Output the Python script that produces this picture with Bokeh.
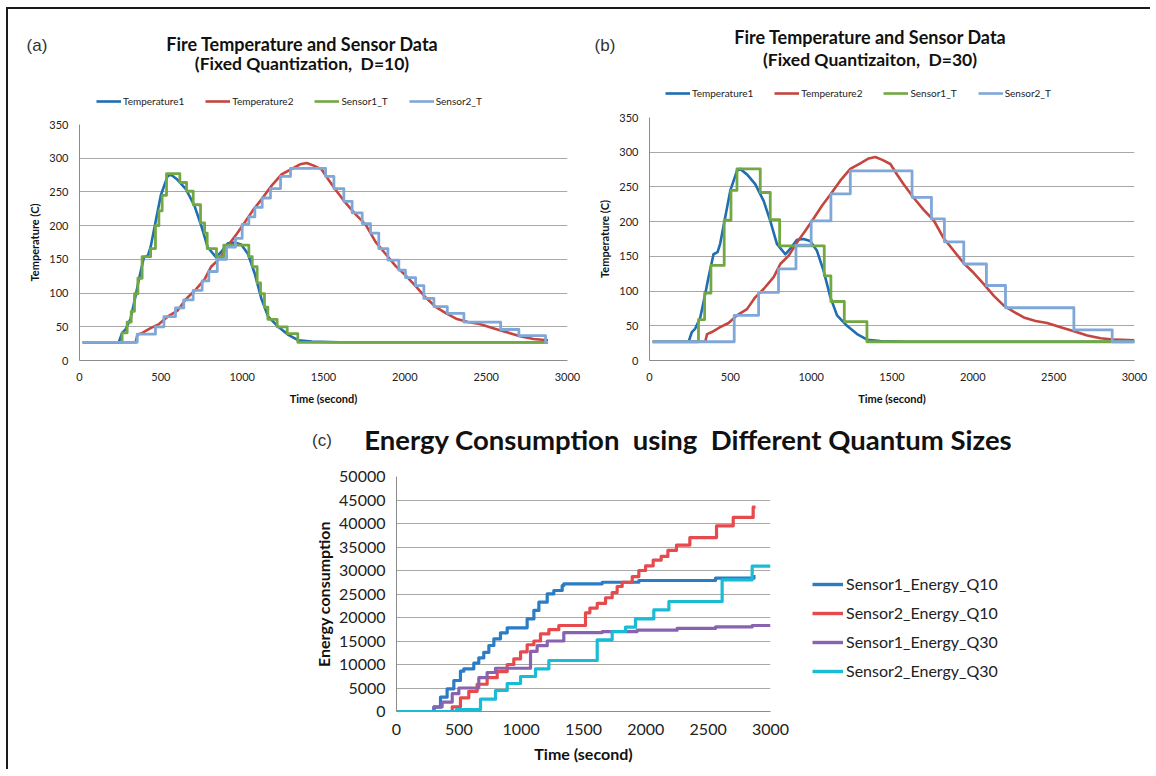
from bokeh.plotting import figure
from bokeh.models import Range1d, Legend, LegendItem, SingleIntervalTicker, Div
from bokeh.layouts import row, column
from bokeh.embed import file_html
from bokeh.resources import INLINE

# ---------------- data ----------------
# fire temperatures (shared by panels a and b)
temp1_t = [20, 242, 262, 283, 314, 345, 365, 396, 421, 437, 468, 500, 541, 561, 603, 654, 706, 747, 788,
           840, 871, 912, 953, 994, 1036, 1077, 1119, 1160, 1222, 1284, 1346, 1428, 1600, 2000, 2500, 2880, 3000]
temp1_v = [27, 27, 41, 46, 62, 96, 120, 153, 156, 168, 206, 245, 273, 276, 268, 254, 230, 201, 168,
           153, 161, 174, 175, 172, 158, 129, 91, 65, 50, 38, 30, 28, 27, 27, 27, 27, 27]
temp2_t = [20, 345, 356, 386, 437, 489, 541, 603, 654, 706, 768, 809, 861, 912, 964, 1005, 1067, 1119, 1180,
           1242, 1304, 1356, 1397, 1440, 1490, 1531, 1572, 1635, 1696, 1758, 1820, 1882, 1944, 2006, 2068,
           2130, 2192, 2254, 2315, 2388, 2460, 2543, 2626, 2708, 2791, 2880, 3000]
temp2_v = [27, 27, 38, 41, 48, 54, 65, 74, 91, 103, 120, 139, 151, 170, 187, 201, 223, 239, 259,
           276, 284, 291, 293, 289, 283, 268, 254, 234, 217, 202, 176, 158, 140, 126, 110,
           93, 79, 70, 62, 57, 54, 48, 42, 36, 32, 30, 29]

# panel (a): D=10 sensor readings (time of change, reported value)
s1a_t = [20, 262, 293, 318, 338, 359, 385, 437, 467, 488, 508, 535, 617, 658, 699, 744, 769, 785, 842, 887,
         1041, 1062, 1092, 1113, 1137, 1158, 1215, 1277, 1342, 2880]
s1a_v = [27, 41, 57, 73, 99, 122, 154, 166, 200, 222, 245, 277, 264, 251, 231, 204, 189, 166, 154, 171,
         154, 139, 115, 99, 79, 61, 50, 40, 27, 27]
s2a_t = [20, 355, 467, 519, 590, 641, 699, 754, 795, 847, 904, 959, 1000, 1041, 1078, 1123, 1174, 1236, 1297,
         1513, 1564, 1625, 1676, 1738, 1789, 1840, 1896, 1963, 2004, 2066, 2117, 2179, 2261, 2363, 2589,
         2701, 2865, 2880]
s2a_v = [27, 39, 50, 65, 78, 90, 104, 118, 132, 150, 168, 181, 202, 213, 227, 241, 255, 273, 285,
         273, 255, 236, 219, 203, 189, 166, 149, 134, 123, 111, 92, 80, 70, 57, 46,
         37, 27, 27]

# panel (b): D=30 sensor readings
s1b_t = [20, 303, 341, 380, 462, 504, 541, 685, 747, 805, 1081, 1122, 1205, 1345, 3000]
s1b_v = [27, 59, 97, 137, 202, 245, 276, 242, 203, 165, 122, 85, 56, 27, 27]
s2b_t = [20, 524, 675, 798, 906, 1000, 1122, 1242, 1624, 1744, 1824, 1944, 2084, 2202, 2625, 2862, 3000]
s2b_v = [27, 65, 98, 132, 166, 201, 240, 273, 235, 204, 171, 139, 108, 76, 44, 27, 27]

# panel (c): cumulative energy
e1q10_t = [0, 286, 300, 353, 406, 460, 513, 540, 615, 620, 660, 700, 741, 781, 834, 888, 1035, 1048, 1102,
           1142, 1209, 1262, 1329, 1342, 1650, 1944, 2559, 2867, 2880]
e1q10_v = [0, 0, 920, 3050, 4820, 6600, 8580, 9080, 9080, 10280, 11400, 12600, 14040, 15460, 16740, 17800,
           17800, 19700, 21500, 23260, 25030, 25740, 26800, 27160, 27500, 27870, 28370, 28720, 28720]
e2q10_t = [0, 447, 513, 580, 647, 727, 808, 888, 941, 995, 1048, 1102, 1155, 1222, 1302, 1516, 1551, 1610,
           1677, 1730, 1770, 1810, 1891, 1944, 1998, 2059, 2123, 2177, 2246, 2353, 2567, 2701, 2861, 2880]
e2q10_v = [0, 1000, 2900, 4300, 5800, 7200, 8500, 10000, 11200, 12700, 14200, 15000, 16500, 17400, 18300,
           21000, 22000, 23000, 24200, 25300, 26600, 27500, 28700, 30000, 31000, 32200, 33000, 34300,
           35400, 37000, 39500, 41300, 43500, 43500]
e1q30_t = [0, 300, 366, 447, 500, 660, 727, 794, 1075, 1128, 1209, 1342, 1650, 1930, 2251, 2560, 2853, 3000]
e1q30_v = [0, 1000, 2000, 3800, 5000, 7200, 8300, 9200, 12800, 14000, 15000, 16800, 17000, 17300, 17700,
           18000, 18300, 18300]
e2q30_t = [0, 480, 674, 794, 888, 995, 1115, 1222, 1610, 1730, 1837, 1917, 2064, 2185, 2612, 2853, 3000]
e2q30_v = [0, 400, 2620, 4470, 5960, 7450, 9080, 10850, 15250, 17020, 17940, 19720, 21630, 23400, 28010,
           30920, 30920]

temp_names = ["Temperature1", "Temperature2", "Sensor1_T", "Sensor2_T"]
energy_names = ["Sensor1_Energy_Q10", "Sensor2_Energy_Q10", "Sensor1_Energy_Q30", "Sensor2_Energy_Q30"]
title_a = ["Fire Temperature and Sensor Data", "(Fixed Quantization,  D=10)"]
title_b = ["Fire Temperature and Sensor Data", "(Fixed Quantizaiton,  D=30)"]
title_c = "Energy Consumption  using  Different Quantum Sizes"

# ---------------- styling ----------------
FONT = "Lato"
TEMP_COLORS = ["#1F6DB2", "#C4463F", "#72A843", "#7FA7D8"]
E_COLORS = ["#2A7CC4", "#E64A4D", "#8A63B0", "#1ABCD5"]
GRID = "#A8A8A8"
AXIS = "#8C8C8C"


def base_fig(w, h, bl, br, bt, bb, ymax, yint, tick_size, lab_size, xlab, ylab, ystand, xstand):
    p = figure(width=w, height=h, x_range=Range1d(0, 3000), y_range=Range1d(0, ymax),
               output_backend="svg", toolbar_location=None,
               min_border_left=bl, min_border_right=br, min_border_top=bt, min_border_bottom=bb)
    p.outline_line_color = None
    p.xgrid.visible = False
    p.ygrid.grid_line_color = GRID
    p.ygrid.grid_line_width = 1
    p.xaxis.ticker = SingleIntervalTicker(interval=500)
    p.yaxis.ticker = SingleIntervalTicker(interval=yint)
    for ax in (p.xaxis[0], p.yaxis[0]):
        ax.axis_line_color = AXIS
        ax.axis_line_width = 1
        ax.major_tick_line_color = None
        ax.minor_tick_line_color = None
        ax.major_tick_out = 0
        ax.major_tick_in = 0
        ax.major_label_text_font = FONT
        ax.major_label_text_font_size = tick_size
        ax.major_label_text_color = "#222222"
        ax.axis_label_text_font = FONT
        ax.axis_label_text_font_style = "bold"
        ax.axis_label_text_font_size = lab_size
        ax.axis_label_text_color = "#111111"
    p.xaxis.axis_label = xlab
    p.yaxis.axis_label = ylab
    p.yaxis.major_label_standoff = 7
    p.xaxis.major_label_standoff = 8
    p.yaxis.axis_label_standoff = ystand
    p.xaxis.axis_label_standoff = xstand
    return p


def header(w, h, items):
    spans = []
    for (x, y, text, size, bold, font) in items:
        spans.append(
            f'<div style="position:absolute;left:{x}px;top:{y}px;transform:translate(-50%,-50%);'
            f'white-space:pre;font-family:\'{font}\';font-size:{size};font-weight:{"bold" if bold else "normal"};'
            f'color:{"#111" if bold else "#333"};line-height:1;">{text}</div>')
    html = f'<div style="position:relative;width:{w}px;height:{h}px;">' + "".join(spans) + "</div>"
    return Div(text=html, width=w, height=h, margin=0)


def legend_fig(w, h, names, series, colors, lw, loc, orientation, size, gw, gh, standoff, spacing):
    # legend-only figure: the series are drawn outside its (empty) view, only the legend shows
    lf = figure(width=w, height=h, x_range=Range1d(-2, -1), y_range=Range1d(-2, -1),
                output_backend="svg", toolbar_location=None, min_border=0,
                x_axis_location=None, y_axis_location=None)
    lf.grid.visible = False
    lf.outline_line_color = None
    rs = [lf.line(tx, vy, line_color=c, line_width=lw) for (tx, vy), c in zip(series, colors)]
    leg = Legend(items=[LegendItem(label=n, renderers=[r]) for n, r in zip(names, rs)],
                 orientation=orientation, location=loc, label_text_font=FONT,
                 label_text_font_size=size, label_text_color="#222222", glyph_width=gw, glyph_height=gh,
                 label_height=gh, label_standoff=standoff, spacing=spacing, padding=0, margin=0,
                 border_line_color=None, background_fill_alpha=0)
    lf.add_layout(leg)
    return lf


def temp_panel(w, h, bl, br, bt, tmax, s1t, s1v, s2t, s2v):
    p = base_fig(w, h, bl, br, bt, 59, 350, 50, "11px", "11px",
                 "Time (second)", "Temperature (C)", 5, 8)
    t1x = [t for t in temp1_t if t <= tmax]
    t1y = temp1_v[:len(t1x)]
    t2x = [t for t in temp2_t if t <= tmax]
    t2y = temp2_v[:len(t2x)]
    p.line(t1x, t1y, line_color=TEMP_COLORS[0], line_width=2.6, line_join="round")
    p.line(t2x, t2y, line_color=TEMP_COLORS[1], line_width=2.6, line_join="round")
    p.step(s1t, s1v, mode="after", line_color=TEMP_COLORS[2], line_width=2.8, line_join="round")
    p.step(s2t, s2v, mode="after", line_color=TEMP_COLORS[3], line_width=2.8, line_join="round")
    return p


# panel (a): header 84 + legend 16 + plot 310
ha = header(578, 84, [(29, 36, "(a)", "17px", False, "Liberation Sans"),
                      (294, 35, title_a[0], "18px", True, FONT),
                      (294, 55, title_a[1], "17.5px", True, FONT)])
la = legend_fig(578, 16, temp_names, [(temp1_t, temp1_v), (temp2_t, temp2_v), (s1a_t, s1a_v), (s2a_t, s2a_v)],
                TEMP_COLORS, 2.6, (17, 2), "horizontal", "10px", 25, 12, 2, 21)
pa = temp_panel(578, 310, 71, 19, 15, 2880, s1a_t, s1a_v, s2a_t, s2a_v)

# panel (b): header 76 + legend 16 + plot 318
hb = header(564, 76, [(19, 36, "(b)", "17px", False, "Liberation Sans"),
                      (284, 28, title_b[0], "18px", True, FONT),
                      (284, 51, title_b[1], "17.5px", True, FONT)])
lb = legend_fig(564, 16, temp_names, [(temp1_t, temp1_v), (temp2_t, temp2_v), (s1b_t, s1b_v), (s2b_t, s2b_v)],
                TEMP_COLORS, 2.6, (16, 2), "horizontal", "10px", 25, 12, 2, 21)
pb = temp_panel(564, 318, 63, 16, 16, 3000, s1b_t, s1b_v, s2b_t, s2b_v)

# panel (c)
hc = header(1142, 46, [(314, 21, "(c)", "17px", False, "Liberation Sans"),
                       (680, 21, title_c, "27.5px", True, FONT)])
pc = base_fig(782, 304, 388, 20, 11, 58, 50000, 5000, "16px", "16px",
              "Time (second)", "Energy consumption", 3, 6)
e_series = [(e1q10_t, e1q10_v), (e2q10_t, e2q10_v), (e1q30_t, e1q30_v), (e2q30_t, e2q30_v)]
for (tx, vy), col in zip(e_series, E_COLORS):
    pc.step(tx, vy, mode="after", line_color=col, line_width=3.2, line_join="round")
lc = legend_fig(360, 304, energy_names, e_series, E_COLORS, 3.4, (22, 31), "vertical", "16px", 31, 16, 3, 10)

root = column(row(column(ha, la, pa), column(hb, lb, pb)), column(hc, row(pc, lc)), margin=(7, 0, 0, 6),
              styles={"border-top": "2px solid #1a1a1a", "border-left": "2px solid #1a1a1a"})

open("out.html", "w").write(file_html(root, INLINE))
